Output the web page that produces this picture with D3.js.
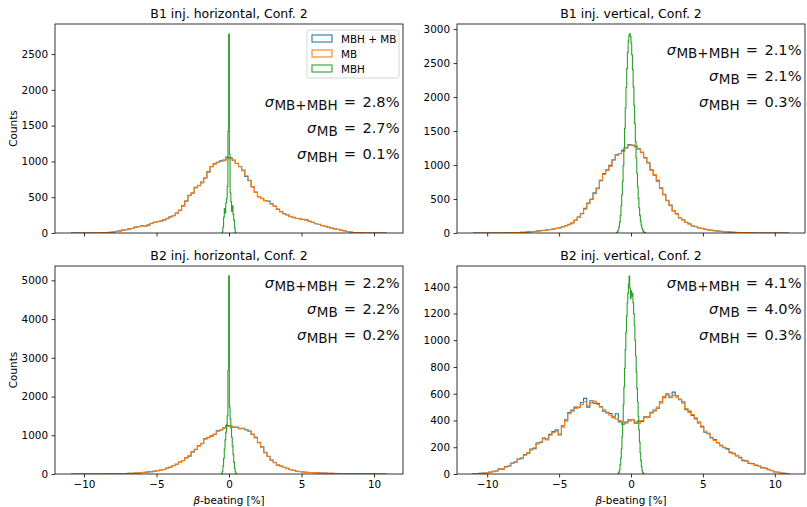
<!DOCTYPE html>
<html>
<head>
<meta charset="utf-8">
<script src="https://cdn.jsdelivr.net/npm/d3@7"></script>
<style>
body { margin: 0; background: #fff; }
text { font-family: "DejaVu Sans", sans-serif; }
</style>
</head>
<body>
<script>
// bin ranges of the histograms (100 bins for MB, fewer for MBH)
var rangeLeft = [-10.9, 10.9],
	rangeRight = [-11, 11];

// B1 horizontal
var b1hAll = [0,0,0,0,0,0,0,1,1,2, 4,6,11,14,23,29,40,46,57,63, 82,88,102,95,110,133,150,160,166,184,
	200,226,242,280,315,382,445,528,555,640, 660,712,768,858,925,968,985,1008,1020,1060,
	1050,1020,970,925,880,790,738,645,572,505, 485,450,446,405,376,330,300,268,255,228,
	218,202,200,188,184,162,150,130,120,102, 94,78,70,56,50,38,32,20,15,7, 4,2,1,0,0,0,0,0,0,0];
var b1hMB = [0,0,0,0,0,0,0,0,1,2, 3,6,10,15,22,30,38,48,55,64, 80,90,100,96,112,135,148,158,168,182,
	205,220,245,275,320,375,450,520,560,630, 665,700,770,850,930,960,990,1000,1010,1035,
	1045,1010,975,930,870,800,730,650,565,510, 480,455,440,410,370,335,295,270,252,232,
	215,205,198,190,180,165,148,132,118,104, 92,80,68,58,48,40,30,22,14,8, 4,2,1,0,0,0,0,0,0,0];
var b1hMBH = [15,80,220,340,280,420,480,650,1420,2780,1100,560,440,300,380,260,180,70,10];
var b1hMBHRange = [-0.475, 0.475];

// B1 vertical
var b1vAll = [0,0,0,0,0,0,0,0,1,1, 2,4,5,7,8,11,12,16,19,23, 27,35,37,46,52,57,70,76,94,110,
	128,148,192,236,285,362,440,492,590,660, 770,875,925,995,1075,1150,1165,1215,1250,1300,
	1290,1270,1240,1180,1110,1030,930,850,775,660, 570,475,410,325,285,220,195,155,135,104,
	95,76,68,53,48,38,35,27,25,19, 18,13,12,8,7,5,4,3,2,1, 0,0,0,0,0,0,0,0,0,0];
var b1vMB = [0,0,0,0,0,0,0,0,0,1, 2,3,5,6,8,10,12,15,18,22, 28,33,38,44,50,58,66,78,90,105,
	122,150,185,230,290,350,430,500,580,650, 780,860,930,980,1080,1140,1170,1200,1260,1290,
	1295,1280,1230,1190,1100,1040,920,860,760,670, 560,480,400,330,280,225,190,160,130,108,
	92,78,66,55,46,40,34,28,24,20, 17,14,11,9,7,5,4,3,2,1, 0,0,0,0,0,0,0,0,0,0];
var b1vMBH = [8,20,45,90,160,260,400,560,760,990, 1250,1540,1840,2140,2420,2650,2820,2910,2930,2890,
	2790,2620,2400,2150,1880,1610,1340,1100,880,680, 510,370,260,175,115,70,42,24,12,5];
var b1vMBHRange = [-1.0, 1.0];

// B2 horizontal
var b2hAll = [0,0,0,0,0,0,0,0,1,1, 2,3,5,5,8,9,12,13,18,21, 25,27,38,43,55,58,75,86,104,118,
	155,176,220,250,310,345,420,462,575,632, 735,780,915,940,985,1020,1115,1135,1195,1250,
	1240,1205,1210,1170,1180,1140,1110,1020,945,810, 700,550,460,355,298,230,205,166,145,112,
	95,72,64,50,47,38,37,32,31,26, 25,20,19,14,14,10,10,7,7,5, 5,4,4,3,3,2,2,1,1,0];
var b2hMB = [0,0,0,0,0,0,0,0,0,1, 2,3,4,5,7,9,11,14,17,20, 24,28,36,44,52,60,72,88,100,120,
	150,180,215,255,300,350,410,470,560,640, 720,790,900,950,970,1030,1100,1140,1180,1220,
	1230,1210,1200,1180,1170,1150,1100,1030,930,820, 690,560,450,360,290,235,200,170,140,115,
	92,75,62,52,45,40,36,33,30,27, 24,21,18,15,13,11,9,8,7,6, 5,4,4,3,3,2,2,1,1,0];
var b2hMBH = [5,60,200,400,640,880,1080,1280,1500,2680,5120,1730,1420,1180,950,720,500,300,150,50,8];
var b2hMBHRange = [-0.525, 0.525];

// B2 vertical
var b2vAll = [2,4,5,7,9,13,20,22,38,36, 55,60,82,88,112,118,145,155,186,190, 232,236,268,262,296,318,330,292,360,405,
	460,472,500,495,535,565,500,548,530,528, 505,470,462,452,420,450,390,372,388,405,
	408,380,395,392,428,425,462,478,492,540, 570,600,575,612,585,555,540,480,470,438,
	418,382,356,312,305,270,258,232,214,196, 190,160,155,135,124,100,98,78,78,64, 60,46,45,32,26,16,13,7,5,2];
var b2vMB = [3,4,6,5,10,14,18,24,35,40, 52,62,78,92,108,122,140,160,180,195, 225,240,262,255,290,310,320,300,350,395,
	450,480,490,500,520,540,510,530,545,520, 500,480,455,440,430,410,400,375,380,395,
	405,390,380,400,420,430,455,470,500,530, 580,590,570,590,575,560,530,490,460,445,
	410,390,350,320,300,275,250,235,210,200, 185,165,150,140,120,105,95,82,75,68, 58,50,42,35,24,18,12,8,5,3];
var b2vMBH = [3,12,30,70,120,190,280,390,520,650, 790,930,1060,1180,1280,1350,1420,1480,1390,1310,
	1370,1330,1350,1280,1200,1110,1000,880,760,640, 540,430,330,240,160,100,55,25,10,3];
var b2vMBHRange = [-0.9, 0.9];

var titles = ["B1 inj. horizontal, Conf. 2", "B1 inj. vertical, Conf. 2",
	"B2 inj. horizontal, Conf. 2", "B2 inj. vertical, Conf. 2"];
var sigmas = [["2.8", "2.7", "0.1"], ["2.1", "2.1", "0.3"], ["2.2", "2.2", "0.2"], ["4.1", "4.0", "0.3"]];
var sigmaNames = ["MB+MBH", "MB", "MBH"];
var yMaxes = [2920, 3075, 5370, 1555];
var yTickSteps = [500, 500, 1000, 200];
var yTickTops = [2500, 3000, 5000, 1400];
var xTicks = [-10, -5, 0, 5, 10];
var seriesNames = ["MBH + MB", "MB", "MBH"];
var colors = ["#1f77b4", "#ff7f0e", "#2ca02c"];

var hists = [
	{all: b1hAll, mb: b1hMB, mbh: b1hMBH, range: rangeLeft, mbhRange: b1hMBHRange},
	{all: b1vAll, mb: b1vMB, mbh: b1vMBH, range: rangeRight, mbhRange: b1vMBHRange},
	{all: b2hAll, mb: b2hMB, mbh: b2hMBH, range: rangeLeft, mbhRange: b2hMBHRange},
	{all: b2vAll, mb: b2vMB, mbh: b2vMBH, range: rangeRight, mbhRange: b2vMBHRange}
];

// axes boxes
var layout = [
	{x: 55, y: 24, w: 348, h: 209, xlim: [-12, 12], sigY: 107, legend: true, ylab: true, xlab: false},
	{x: 457, y: 24, w: 348, h: 209, xlim: [-12.1, 12.1], sigY: 55, legend: false, ylab: false, xlab: false},
	{x: 55, y: 266, w: 348, h: 208, xlim: [-12, 12], sigY: 288, legend: false, ylab: true, xlab: true},
	{x: 457, y: 266, w: 348, h: 208, xlim: [-12.1, 12.1], sigY: 288, legend: false, ylab: false, xlab: true}
];

var svg = d3.select("body")
	.append("svg")
	.attr("width", 807)
	.attr("height", 507);

function stepPoints(counts, range) {
	var w = (range[1] - range[0]) / counts.length;
	var pts = [[range[0], 0]];
	counts.forEach(function(c, i) {
		pts.push([range[0] + i * w, c]);
		pts.push([range[0] + (i + 1) * w, c]);
	});
	pts.push([range[1], 0]);
	return pts;
}

layout.forEach(function(L, p) {
	var g = svg.append("g").attr("transform", "translate(" + L.x + "," + L.y + ")");
	var x = d3.scaleLinear().domain(L.xlim).range([0, L.w]);
	var y = d3.scaleLinear().domain([0, yMaxes[p]]).range([L.h, 0]);
	var line = d3.line().x(function(d) { return x(d[0]); }).y(function(d) { return y(d[1]); });

	var clip = "clip" + p;
	g.append("clipPath").attr("id", clip).append("rect").attr("width", L.w).attr("height", L.h);

	var h = hists[p];
	var series = [[h.all, h.range], [h.mb, h.range], [h.mbh, h.mbhRange]];
	series.forEach(function(s, k) {
		g.append("path")
			.attr("clip-path", "url(#" + clip + ")")
			.attr("d", line(stepPoints(s[0], s[1])))
			.attr("fill", "none")
			.attr("stroke", colors[k])
			.attr("stroke-width", 1.1)
			.attr("stroke-linejoin", "miter");
	});

	// axes
	var yt = d3.range(0, yTickTops[p] + 1, yTickSteps[p]);
	var yAxis = d3.axisLeft(y).tickValues(yt).tickSize(3.5).tickPadding(3.5).tickFormat(d3.format("d"));
	var xAxis = d3.axisBottom(x).tickValues(xTicks).tickSize(3.5).tickPadding(3.5)
		.tickFormat(L.xlab ? function(d) { return d < 0 ? "\u2212" + (-d) : d; } : "");
	var ga = g.append("g").call(yAxis);
	var gx = g.append("g").attr("transform", "translate(0," + L.h + ")").call(xAxis);
	[ga, gx].forEach(function(a) {
		a.select(".domain").remove();
		a.selectAll("text").attr("font-size", 10.4).attr("fill", "#000").style("font-family", "DejaVu Sans");
		a.selectAll("line").attr("stroke", "#000").attr("stroke-width", 0.8);
	});
	g.append("rect").attr("width", L.w).attr("height", L.h)
		.attr("fill", "none").attr("stroke", "#000").attr("stroke-width", 0.8);

	g.append("text").attr("x", L.w / 2).attr("y", -6)
		.attr("text-anchor", "middle").attr("font-size", 12.5).text(titles[p]);

	if (L.ylab) {
		g.append("text").attr("transform", "translate(" + (13 - L.x + 3.5) + "," + (L.h / 2) + ") rotate(-90)")
			.attr("text-anchor", "middle").attr("font-size", 10.4).text("Counts");
	}
	if (L.xlab) {
		var xl = g.append("text").attr("x", L.w / 2).attr("y", L.h + 30)
			.attr("text-anchor", "middle").attr("font-size", 10.4);
		xl.append("tspan").attr("font-style", "italic").text("\u03b2");
		xl.append("tspan").text("-beating [%]");
	}

	// sigma annotations
	sigmas[p].forEach(function(v, k) {
		var t = g.append("text")
			.attr("x", L.w - 3.5)
			.attr("y", L.sigY - L.y + k * 26)
			.attr("text-anchor", "end")
			.attr("font-size", 14.6)
			.attr("fill", "#111");
		t.append("tspan").attr("font-style", "italic").text("\u03c3");
		t.append("tspan").attr("font-size", 13.5).attr("dy", 2.5).attr("dx", 0.5).text(sigmaNames[k]);
		t.append("tspan").attr("dy", -2.5).attr("dx", 6).text("=");
		t.append("tspan").attr("dx", 6.5).text(v + "%");
	});

	if (L.legend) {
		var lg = g.append("g").attr("transform", "translate(" + (307 - L.x) + "," + (30 - L.y) + ")");
		lg.append("rect").attr("width", 92).attr("height", 48).attr("rx", 2.5)
			.attr("fill", "#fff").attr("fill-opacity", 0.8).attr("stroke", "#ccc").attr("stroke-width", 0.8);
		seriesNames.forEach(function(n, k) {
			lg.append("rect").attr("x", 5).attr("y", 5 + k * 15).attr("width", 20).attr("height", 7)
				.attr("fill", "none").attr("stroke", colors[k]).attr("stroke-width", 1.1);
			lg.append("text").attr("x", 34).attr("y", 12.5 + k * 15).attr("font-size", 10.4).text(n);
		});
	}
});
</script>
</body>
</html>
